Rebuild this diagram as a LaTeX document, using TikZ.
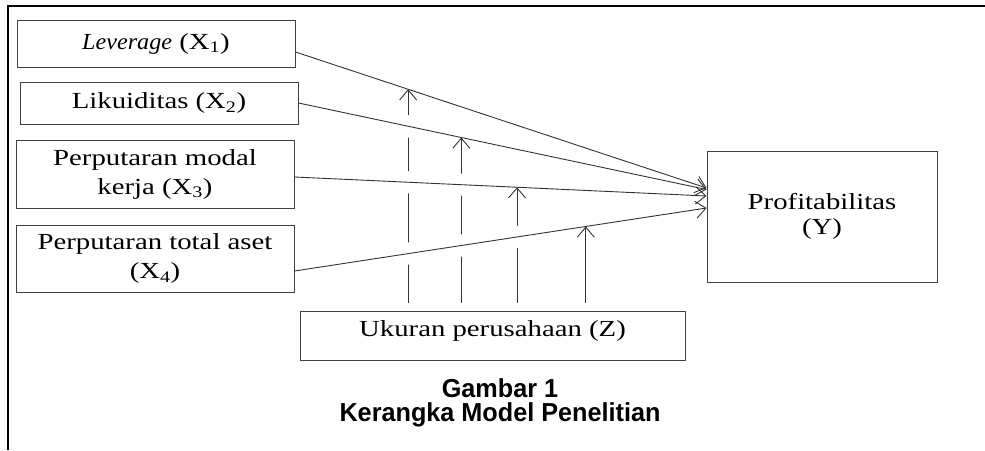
\documentclass[tikz,border=0pt]{standalone}
\usepackage{fontspec}
\setmainfont{Liberation Serif}[FakeStretch=1.25, ItalicFeatures={FakeStretch=1.05}]
\newfontfamily\capfont{Liberation Sans}[FakeStretch=0.97]
\usetikzlibrary{calc,arrows.meta}

\tikzset{
    box/.style={draw=black!75, line width=1pt, inner sep=0pt, align=center,
        font=\fontsize{23}{29}\selectfont},
    link/.style={draw=black!80, line width=0.9pt},
    tip/.style={-{Straight Barb[length=10pt,width=17pt]}},
    halo/.style={draw=white, line width=22pt}
}

\begin{document}
\begin{tikzpicture}[x=1pt,y=-1pt]
    \useasboundingbox (0,0) rectangle (985,450);
    \draw[line width=2pt] (985,6) -- (7.5,6) -- (7.5,450);

    % variabel
    \node[box, minimum width=278, minimum height=47] (lev) at (156,43.5) {\textit{Leverage} (X\textsubscript{1})};
    \node[box, minimum width=278, minimum height=42] (lik) at (159,103) {Likuiditas (X\textsubscript{2})};
    \node[box, minimum width=278, minimum height=68] (pmk) at (155,174) {Perputaran modal\\kerja (X\textsubscript{3})};
    \node[box, minimum width=278, minimum height=67] (pta) at (155,258.5) {Perputaran total aset\\(X\textsubscript{4})};
    \node[box, minimum width=230, minimum height=131, font=\fontsize{23}{25}\selectfont] (prof) at (822,216.5) {Profitabilitas\\(Y)};
    \node[box, minimum width=385, minimum height=49, text depth=13] (ukuran) at (492.5,335.5) {Ukuran perusahaan (Z)};
    \node[font={\capfont\bfseries\fontsize{26}{24}\selectfont}, align=center, inner sep=0pt] (judul) at (500,403) {Gambar 1\\Kerangka Model Penelitian};

    % ujung garis
    \coordinate (s1) at ([yshift=-8.5]lev.east);
    \coordinate (s2) at (lik.east);
    \coordinate (s3) at ([yshift=-3]pmk.east);
    \coordinate (s4) at ([yshift=-12.5]pta.east);
    \coordinate (e1) at ([yshift=28.5]prof.west);
    \coordinate (e2) at ([yshift=27]prof.west);
    \coordinate (e3) at ([yshift=20.5]prof.west);
    \coordinate (e4) at ([yshift=8.5]prof.west);
    \coordinate (m1) at ($(s1)!0.274!(e1)$);
    \coordinate (m2) at ($(s2)!0.399!(e2)$);
    \coordinate (m3) at ($(s3)!0.540!(e3)$);
    \coordinate (m4) at ($(s4)!0.707!(e4)$);
    \coordinate (zt) at ([yshift=8]ukuran.north);

    % moderasi
    \draw[link, tip] (m1 |- zt) -- (m1);
    \draw[link, tip] (m2 |- zt) -- (m2);
    \draw[link, tip] (m3 |- zt) -- (m3);
    \draw[link, tip] (m4 |- zt) -- (m4);

    % celah pada persilangan
    \draw[halo] ($(s2)!0.22!(e2)$) -- ($(s2)!0.32!(e2)$);
    \draw[halo] ($(s3)!0.22!(e3)$) -- ($(s3)!0.46!(e3)$);
    \draw[halo] ($(s4)!0.22!(e4)$) -- ($(s4)!0.60!(e4)$);

    \draw[link, tip] (s1) -- (e1);
    \draw[link, tip] (s2) -- (e2);
    \draw[link, tip] (s3) -- (e3);
    \draw[link, tip] (s4) -- (e4);
\end{tikzpicture}
\end{document}
